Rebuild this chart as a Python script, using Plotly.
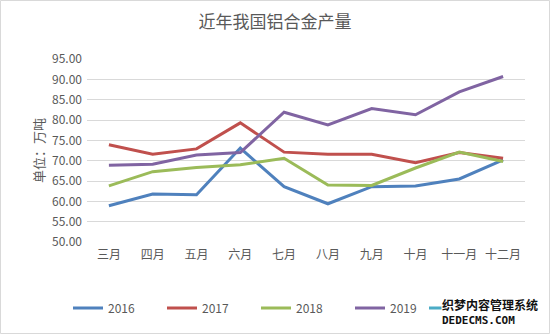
import plotly.graph_objects as go

months = ["三月", "四月", "五月", "六月", "七月", "八月", "九月", "十月", "十一月", "十二月"]
y2016 = [58.9, 61.8, 61.6, 73.1, 63.6, 59.4, 63.6, 63.8, 65.5, 70.2]
y2017 = [73.9, 71.6, 72.9, 79.3, 72.1, 71.6, 71.6, 69.5, 72.0, 70.6]
y2018 = [63.8, 67.3, 68.3, 69.0, 70.6, 64.0, 63.9, 68.2, 72.1, 69.8]
y2019 = [68.9, 69.1, 71.4, 72.0, 81.9, 78.8, 82.8, 81.3, 86.9, 90.7]
y2020 = [None] * 10
series = [("2016", y2016, "#4F81BD"), ("2017", y2017, "#C0504D"),
          ("2018", y2018, "#9BBB59"), ("2019", y2019, "#8064A2"),
          ("2020", y2020, "#4BACC6")]
yticks = [50, 55, 60, 65, 70, 75, 80, 85, 90, 95]

font = "Noto Sans CJK SC"
grey = "#595959"

fig = go.Figure()
for i, (name, ys, col) in enumerate(series):
    fig.add_trace(go.Scatter(x=months, y=ys, name=name, mode="lines",
                             line=dict(color=col, width=3),
                             legend="legend" if i < 4 else "legend2"))

W, H = 550, 334
L, R, T, B = 87, 25, 59, 92
pw, ph = W - L - R, H - T - B

leg_y = -(308 - (T + ph)) / ph
fig.update_layout(
    width=W, height=H,
    margin=dict(l=L, r=R, t=T, b=B, autoexpand=False),
    paper_bgcolor="white", plot_bgcolor="white",
    font=dict(family=font, color=grey, size=12),
    title=dict(text="近年我国铝合金产量", x=0.5, xanchor="center", y=1 - 22 / H, yanchor="middle",
               font=dict(family=font, size=17, color=grey)),
    showlegend=True,
    legend=dict(orientation="h", x=(68 - L) / pw, xanchor="left", y=leg_y, yanchor="middle",
                entrywidth=49, entrywidthmode="pixels", font=dict(size=12, color=grey),
                bgcolor="rgba(0,0,0,0)"),
    legend2=dict(orientation="h", x=(68 + 4 * 89 - L) / pw, xanchor="left", y=leg_y, yanchor="middle",
                 entrywidth=49, entrywidthmode="pixels", font=dict(size=12, color=grey),
                 bgcolor="rgba(0,0,0,0)"),
    xaxis=dict(type="category", range=[-0.5, 9.5], showgrid=False, showline=False, ticks="", zeroline=False,
               tickfont=dict(size=12, color=grey), ticklabelstandoff=4),
    yaxis=dict(range=[50, 95], tickvals=yticks, tickformat=".2f", showgrid=True,
               gridcolor="#d9d9d9", gridwidth=1, zeroline=False, showline=False, ticks="",
               tickfont=dict(size=12, color=grey), ticklabelstandoff=4,
               title=dict(text="单位：万吨", font=dict(size=13, color=grey), standoff=4)),
    shapes=[dict(type="rect", xref="paper", yref="paper",
                 x0=(0.5 - L) / pw, x1=(W - 0.5 - L) / pw,
                 y0=-(H - 0.5 - T - ph) / ph, y1=1 + (T - 0.5) / ph,
                 line=dict(color="#d9d9d9", width=1), fillcolor="rgba(0,0,0,0)", layer="below")],
    annotations=[
        dict(text="<b>织梦内容管理系统</b>", xref="paper", yref="paper",
             x=(441 - L) / pw, y=-(304 - T - ph) / ph, showarrow=False, xanchor="left", yanchor="middle",
             font=dict(family=font, size=12, color="#111111"), bgcolor="white", borderpad=0),
        dict(text="<b>DEDECMS.COM</b>", xref="paper", yref="paper",
             x=(441 - L) / pw, y=-(320 - T - ph) / ph, showarrow=False, xanchor="left", yanchor="middle",
             font=dict(family="DejaVu Sans Mono", size=11, color="#111111"), bgcolor="white", borderpad=0),
    ],
)

fig.write_html("out.html")
